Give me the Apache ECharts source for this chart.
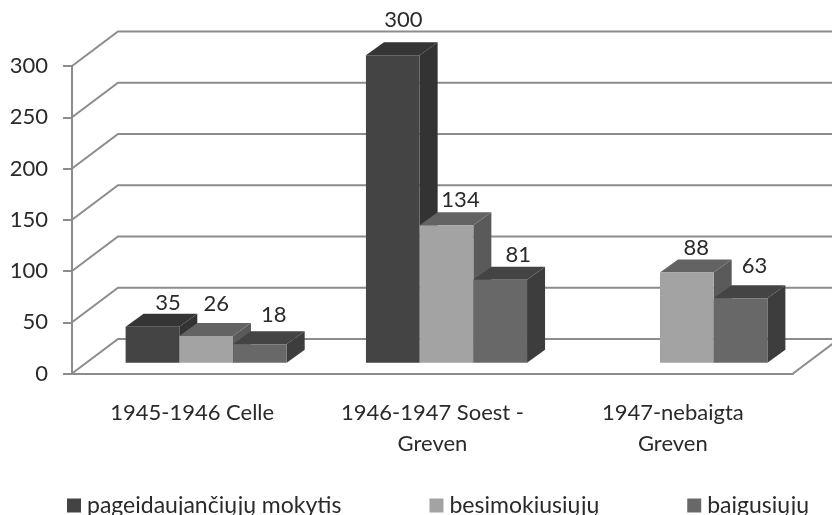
<!DOCTYPE html>
<html>
<head>
<meta charset="utf-8">
<style>html,body{margin:0;padding:0;background:#fff;}#main{width:832px;height:515px;}</style>
<script src="https://cdn.jsdelivr.net/npm/echarts@6/dist/echarts.min.js"></script>
</head>
<body>
<div id="main"></div>
<script>
const categories = ['1945-1946 Celle', '1946-1947 Soest -\nGreven', '1947-nebaigta\nGreven'];
const yTicks = [0, 50, 100, 150, 200, 250, 300];
const pageidaujanciuju = [35, 300, null];
const besimokiusiuju = [26, 134, 88];
const baigusiuju = [18, 81, 63];

var myChart = echarts.init(document.getElementById('main'));

const wallDx = 46, wallDy = 34.5;   // depth of the floor
const baseDx = 14, baseDy = 10.8;   // bars stand this far inside the floor
const depthDx = 18, depthDy = 13;   // depth of one bar
const barWidth = 53.7;
const textFont = 'Lato, "Noto Sans", sans-serif';
const lineColor = '#8c8c8c';
const textColor = '#2a2a2a';

// custom series for the wall lines
function renderWall(params, api) {
  const sys = params.coordSys;
  const y = api.coord([0, api.value(1)])[1];
  const x0 = sys.x, x1 = sys.x + sys.width;
  const style = { stroke: lineColor, lineWidth: 2, fill: 'none' };
  const children = [{
    type: 'polyline',
    shape: { points: [[x0, y], [x0 + wallDx, y - wallDy], [x1 + wallDx, y - wallDy]] },
    style: style
  }];
  if (api.value(1) === 0) {
    children.push({
      type: 'line',
      shape: { x1: x1, y1: y, x2: x1 + wallDx, y2: y - wallDy },
      style: style
    });
  }
  return { type: 'group', children: children };
}

// one 3D bar: side, top, front
function makeBar(slot, front, side, top, nudge) {
  return function (params, api) {
    const v = api.value(1);
    if (v === null || isNaN(v)) return null;
    const c = api.value(0);
    const center = api.coord([c, 0])[0] + baseDx + slot * barWidth;
    const yBase = api.coord([c, 0])[1] - baseDy;
    const yTop = api.coord([c, v])[1] - baseDy;
    const l = center - barWidth / 2, r = center + barWidth / 2;
    const n = nudge[c];
    return {
      type: 'group',
      children: [
        { type: 'polygon', shape: { points: [[r, yBase], [r + depthDx, yBase - depthDy], [r + depthDx, yTop - depthDy], [r, yTop]] }, style: { fill: side } },
        { type: 'polygon', shape: { points: [[l, yTop], [l + depthDx, yTop - depthDy], [r + depthDx, yTop - depthDy], [r, yTop]] }, style: { fill: top } },
        { type: 'rect', shape: { x: l, y: yTop, width: barWidth, height: yBase - yTop }, style: { fill: front } },
        { type: 'text', x: center + n[0], y: yTop - depthDy - n[1], style: { text: String(v), fill: textColor, font: '22px ' + textFont, align: 'center', verticalAlign: 'middle' } }
      ]
    };
  };
}

const toPairs = arr => arr.map((v, i) => [i, v]);

myChart.setOption({
  animation: false,
  backgroundColor: '#fff',
  grid: { left: 72, right: 39, top: 66, bottom: 141.5 },
  legend: {
    left: 67, top: 494, padding: 0, itemGap: 88, itemWidth: 14, itemHeight: 14, icon: 'rect',
    textStyle: { color: textColor, fontSize: 23, fontFamily: textFont, padding: [0, 0, 0, 1] },
    data: ['pageidaujančiųjų mokytis', 'besimokiusiųjų', 'baigusiųjų']
  },
  xAxis: {
    type: 'category',
    data: categories,
    axisLine: { lineStyle: { color: lineColor, width: 2 } },
    axisTick: { length: 7, lineStyle: { color: lineColor, width: 2 } },
    axisLabel: { color: textColor, fontSize: 22, fontFamily: textFont, lineHeight: 31, margin: 24 }
  },
  yAxis: {
    type: 'value', min: 0, max: 300, interval: 50,
    splitLine: { show: false },
    axisLine: { show: true, lineStyle: { color: lineColor, width: 2 } },
    axisTick: { show: true, length: 9, lineStyle: { color: lineColor, width: 2 } },
    axisLabel: { color: textColor, fontSize: 22, margin: 24, fontFamily: textFont }
  },
  series: [
    { type: 'custom', name: 'wall', silent: true, renderItem: renderWall, data: yTicks.map(t => [0, t]), z: 1, encode: { x: 0, y: 1 } },
    { type: 'custom', name: 'pageidaujančiųjų mokytis', itemStyle: { color: '#434343' }, data: toPairs(pageidaujanciuju), z: 2, encode: { x: 0, y: 1 },
      renderItem: makeBar(-1, '#444444', '#333333', '#353535', [[15.5, 11], [10.5, 22], [0, 0]]) },
    { type: 'custom', name: 'besimokiusiųjų', itemStyle: { color: '#a3a3a3' }, data: toPairs(besimokiusiuju), z: 3, encode: { x: 0, y: 1 },
      renderItem: makeBar(0, '#a3a3a3', '#5a5a5a', '#636363', [[10, 19], [14, 12], [9.5, 11.5]]) },
    { type: 'custom', name: 'baigusiųjų', itemStyle: { color: '#686868' }, data: toPairs(baigusiuju), z: 4, encode: { x: 0, y: 1 },
      renderItem: makeBar(1, '#686868', '#3d3d3d', '#444444', [[14, 16], [18, 11.7], [14, 19]]) }
  ]
});
</script>
</body>
</html>
